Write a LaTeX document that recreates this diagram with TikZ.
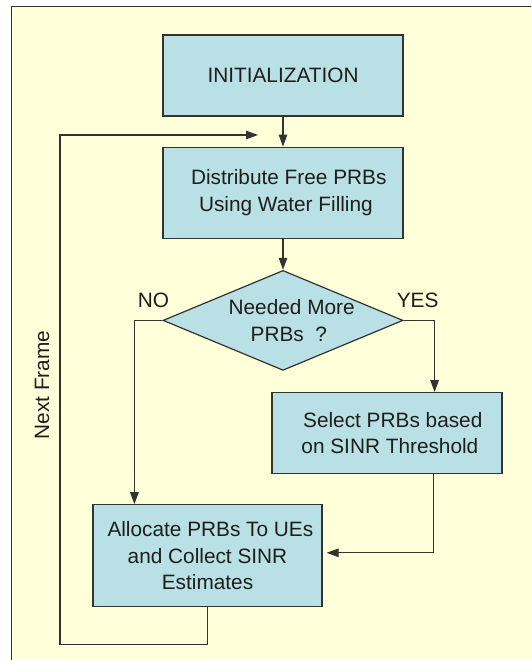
\documentclass[tikz,border=0pt]{standalone}
\usepackage{fontspec}
\setmainfont{Liberation Sans}
\usepackage{tikz}
\usetikzlibrary{shapes.geometric,arrows.meta,positioning}

\definecolor{bgyellow}{HTML}{FFFFD9}
\definecolor{boxfill}{HTML}{B9E0E4}
\definecolor{linegray}{HTML}{333333}
\definecolor{txtgray}{HTML}{1E1E1E}

\begin{document}
\begin{tikzpicture}[auto,
        font=\fontsize{20.8pt}{26.5pt}\selectfont,
        block/.style={rectangle, draw=linegray, line width=1.2pt, fill=boxfill, text=txtgray, align=center, inner sep=0pt},
        decision/.style={diamond, draw=linegray, line width=1.2pt, fill=boxfill, text=txtgray, align=center, shape aspect=2.4, inner sep=-3pt, minimum width=240pt, minimum height=100pt},
        lbl/.style={text=txtgray},
        arr/.style={-{Triangle[length=12pt,width=8.5pt]}, draw=linegray, line width=1.1pt}]

        \useasboundingbox (0,0) rectangle (531pt,-660pt);
        \clip (0,0) rectangle (531pt,-660pt);
        \fill[white] (0,0) rectangle (531pt,-660pt);
        \draw[linegray, fill=bgyellow, line width=1pt] (11.5pt,-7pt) rectangle (560pt,-690pt);

        \node[block, minimum width=240pt, minimum height=81pt] (init) at (283pt,-75.5pt) {INITIALIZATION};
        \node[block, minimum width=240pt, minimum height=91pt, below=30pt of init] (dist) {~~Distribute Free PRBs\\~Using Water Filling};
        \node[decision, below=31pt of dist] (need) {~~~Needed More\\~~PRBs~~?};
        \node[block, minimum width=230pt, minimum height=81pt, below=21pt of need, xshift=104pt] (select) {~~Select PRBs based\\~on SINR Threshold};
        \node[block, minimum width=229pt, minimum height=102pt, below=30pt of select, xshift=-179.5pt] (alloc) {~Allocate PRBs To UEs\\ and Collect SINR\\ Estimates};

        \node[lbl] (no) at ([xshift=-9pt,yshift=20pt]need.west) {NO};
        \node[lbl] (yes) at ([xshift=14pt,yshift=20pt]need.east) {YES};
        \node[lbl, rotate=90] (next) at (42pt,-385pt) {Next Frame};

        \coordinate (loopend) at (258pt,-135pt);
        \coordinate (loopcorner) at (60pt,-135pt);

        \draw[arr] (init) -- (dist);
        \draw[arr] (dist) -- (need);
        \draw[arr] (need.west) -| ([xshift=42pt]alloc.north west);
        \draw[arr] (need.east) -| ([xshift=-68pt]select.north east);
        \draw[arr, shorten >=4pt] ([xshift=-69pt]select.south east) |- ([yshift=3pt]alloc.east);
        \draw[arr] (alloc.south) -- ++(0,-37pt) -| (loopcorner) -- (loopend);
    \end{tikzpicture}
\end{document}
